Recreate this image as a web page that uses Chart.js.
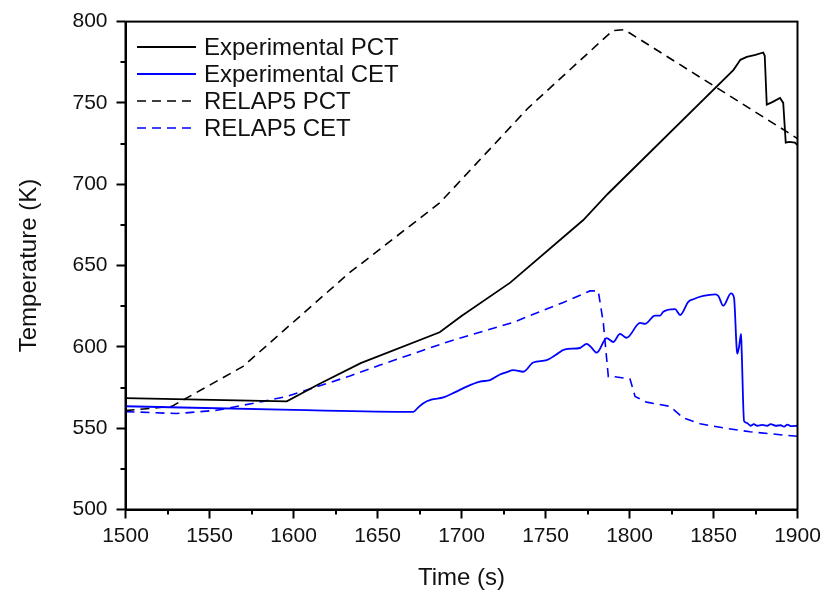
<!DOCTYPE html>
<html><head><meta charset="utf-8">
<script src="https://cdn.jsdelivr.net/npm/chart.js@4"></script>
<style>html,body{margin:0;padding:0;background:#fff}</style>
</head><body>
<canvas id="c" width="827" height="598"></canvas>
<script>
// ---- data ----
const seriesLabels = ['Experimental PCT', 'Experimental CET', 'RELAP5 PCT', 'RELAP5 CET'];

const expPctTime = [1500, 1596, 1615, 1640, 1687, 1700, 1729, 1772.5, 1787, 1861.8, 1863.8, 1866, 1869.8, 1875, 1879.6, 1880.5, 1881.7, 1885, 1889.6, 1891.5, 1893, 1895, 1898.5, 1900];
const expPctTemp = [568.5, 566.5, 577, 590, 609, 619, 639.5, 678, 694, 770.2, 773.2, 776.5, 778.3, 779.5, 781, 779, 749, 750.5, 753, 750, 725.6, 726, 725.6, 724];

const expCetTime = [1500, 1600, 1671.3, 1674, 1677.3, 1682, 1689.2, 1696, 1703.1, 1711, 1717, 1722.9, 1727, 1730.8, 1736.8, 1742.7, 1750.7, 1756, 1761.6, 1770.5, 1774.5, 1777, 1780.5, 1786.4, 1790.4, 1794.3, 1798.3, 1806.3, 1809.2, 1815.2, 1818.2, 1820.1, 1827.1, 1830.1, 1835, 1838, 1843.9, 1850.9, 1852.9, 1855.8, 1860.4, 1862.2, 1863.8, 1864.2, 1865.2, 1866.4, 1866.8, 1868.2, 1869.8, 1872, 1874, 1876, 1879, 1882, 1884, 1887, 1890, 1892, 1894, 1896, 1900];
const expCetTemp = [563.5, 561.2, 560, 562.5, 565.4, 567.5, 568.9, 572, 575.6, 578.6, 579.6, 583, 584.5, 585.7, 584.7, 590.4, 591.8, 595, 598.5, 599.3, 601.9, 600, 596.4, 605.4, 603, 608, 605.6, 614.7, 614.1, 619.2, 619.2, 621.6, 623.2, 619.6, 627.7, 629.3, 631.3, 632.3, 631.3, 625.3, 632.9, 630.3, 598.9, 595.8, 600, 608, 596.9, 554.3, 553.3, 551.5, 552.5, 551.5, 552, 551.5, 552.5, 551.5, 551.8, 551, 552.2, 551.3, 551.5];

const r5PctTime = [1500, 1527.5, 1570, 1632.6, 1687, 1739.8, 1790, 1797, 1894.5, 1900];
const r5PctTemp = [560.8, 563.4, 588, 645, 688.5, 747, 794.5, 795, 731.7, 728];

const r5CetTime = [1500, 1530.5, 1554.3, 1582, 1596, 1633.6, 1651.5, 1691.2, 1730.8, 1760.6, 1776.5, 1781.4, 1784.4, 1787.4, 1790.4, 1800.3, 1803.3, 1810.2, 1824.1, 1832, 1842, 1857.9, 1871.7, 1893.6, 1900];
const r5CetTemp = [560.2, 559, 561, 566.5, 569.5, 582.1, 588.8, 602.9, 615.1, 627.3, 634.4, 634.4, 615, 581.7, 581.7, 580.3, 569.5, 566, 563.4, 556.3, 552.7, 549.8, 547.8, 545.6, 545];

const xMin = 1500, xMax = 1900, xStep = 50;
const yMin = 500, yMax = 800, yStep = 50;

function pts(t, v) { return t.map((x, i) => ({x: x, y: v[i]})); }

const FONT = '"Liberation Sans", Arial, sans-serif';
const DASH = [9, 6];

const frame = {
  id: 'frame',
  afterDraw(chart) {
    const {ctx, chartArea: a, scales: {x, y}} = chart;
    ctx.save();
    ctx.strokeStyle = '#000';
    ctx.lineWidth = 2;
    ctx.strokeRect(a.left, a.top, a.right - a.left, a.bottom - a.top);
    // minor ticks
    ctx.beginPath();
    for (let v = xMin + xStep / 2; v < xMax; v += xStep) {
      const px = Math.round(x.getPixelForValue(v));
      ctx.moveTo(px, a.bottom); ctx.lineTo(px, a.bottom + 5);
    }
    for (let v = yMin + yStep / 2; v < yMax; v += yStep) {
      const py = Math.round(y.getPixelForValue(v));
      ctx.moveTo(a.left, py); ctx.lineTo(a.left - 5, py);
    }
    ctx.stroke();
    // legend
    const rows = [47, 74, 101, 128];
    chart.data.datasets.forEach((ds, i) => {
      const yy = rows[i];
      ctx.beginPath();
      ctx.strokeStyle = ds.borderColor;
      ctx.lineWidth = ds.borderWidth;
      ctx.setLineDash(ds.borderDash || []);
      ctx.moveTo(137, yy); ctx.lineTo(196, yy);
      ctx.stroke();
      ctx.setLineDash([]);
      ctx.fillStyle = '#111';
      ctx.font = '24px ' + FONT;
      ctx.textBaseline = 'middle';
      ctx.textAlign = 'left';
      ctx.fillText(ds.label, 204, yy + 1);
    });
    ctx.restore();
  }
};

new Chart(document.getElementById('c'), {
  type: 'line',
  data: {
    datasets: [
      {label: seriesLabels[0], data: pts(expPctTime, expPctTemp), borderColor: '#000000', borderWidth: 1.8, pointRadius: 0, tension: 0},
      {label: seriesLabels[1], data: pts(expCetTime, expCetTemp), borderColor: '#0000FF', borderWidth: 1.8, pointRadius: 0, cubicInterpolationMode: 'monotone'},
      {label: seriesLabels[2], data: pts(r5PctTime, r5PctTemp), borderColor: '#000000', borderWidth: 1.6, borderDash: DASH, pointRadius: 0, tension: 0},
      {label: seriesLabels[3], data: pts(r5CetTime, r5CetTemp), borderColor: '#0000FF', borderWidth: 1.6, borderDash: DASH, pointRadius: 0, tension: 0}
    ]
  },
  options: {
    responsive: false,
    animation: false,
    devicePixelRatio: 1,
    layout: {padding: {top: 16, right: 29.5, left: 0, bottom: 0}},
    plugins: {legend: {display: false}, tooltip: {enabled: false}},
    scales: {
      x: {
        type: 'linear', min: xMin, max: xMax,
        ticks: {stepSize: xStep, color: '#111', font: {family: FONT, size: 21}, padding: 5, maxRotation: 0,
                callback: (v) => String(v)},
        grid: {drawOnChartArea: false, drawTicks: true, tickLength: 9, tickWidth: 2, tickColor: '#000'},
        border: {display: true, width: 2, color: '#000'},
        title: {display: true, text: 'Time (s)', color: '#111', font: {family: FONT, size: 24}, padding: {top: 0, bottom: 5}},
        afterFit(s) { s.height = 88.5; }
      },
      y: {
        type: 'linear', min: yMin, max: yMax,
        ticks: {stepSize: yStep, color: '#111', font: {family: FONT, size: 21}, padding: 9,
                callback: (v) => String(v)},
        grid: {drawOnChartArea: false, drawTicks: true, tickLength: 9, tickWidth: 2, tickColor: '#000'},
        border: {display: true, width: 2, color: '#000'},
        title: {display: true, text: 'Temperature (K)', color: '#111', font: {family: FONT, size: 24}, padding: {top: 15, bottom: 0}},
        afterFit(s) { s.width = 125.5; }
      }
    }
  },
  plugins: [frame]
});
</script>
</body></html>
